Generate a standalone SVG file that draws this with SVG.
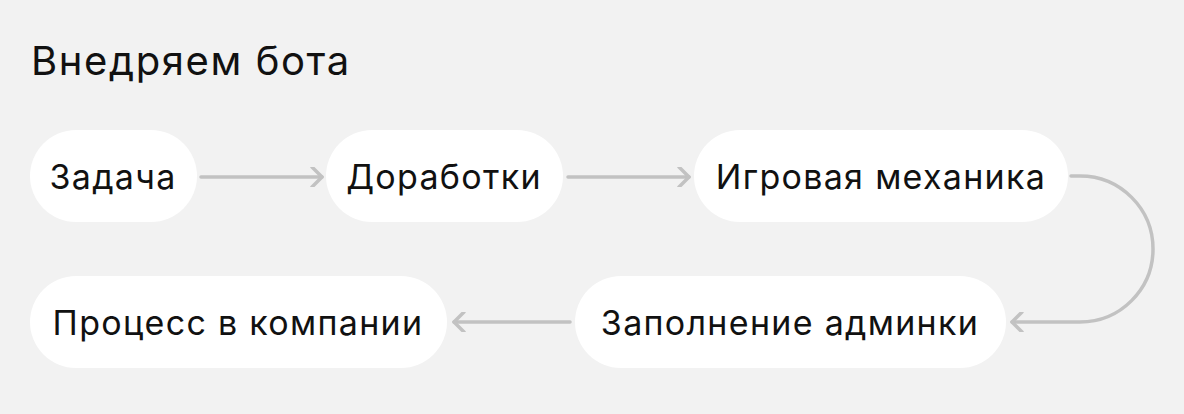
<svg xmlns="http://www.w3.org/2000/svg" width="1184" height="414" viewBox="0 0 1184 414">
<style>
text{font-family:Inter,"Noto Sans","Liberation Sans",sans-serif;fill:#111;font-size:34px;letter-spacing:1.3px}
.n{fill:#fff}
.c{fill:none;stroke:#c2c2c2;stroke-width:3.5;stroke-linecap:round;stroke-linejoin:round}
</style>
<defs>
<marker id="a" viewBox="0 0 20 20" refX="17" refY="10" markerWidth="20" markerHeight="20" markerUnits="userSpaceOnUse" orient="auto">
<path d="M7 0 L17 10 L7 20" fill="none" stroke="#c2c2c2" stroke-width="3.5" stroke-linecap="round" stroke-linejoin="round"/>
</marker>
</defs>
<rect width="1184" height="414" fill="#f2f2f2"/>
<text x="31" y="75" style="font-size:40px;letter-spacing:1.6px">Внедряем бота</text>
<g id="connectors">
<path class="c" d="M201 177 H322" marker-end="url(#a)"/>
<path class="c" d="M568 177 H689" marker-end="url(#a)"/>
<path class="c" d="M1071 176 H1080 A73 73 0 0 1 1080 322 H1012" marker-end="url(#a)"/>
<path class="c" d="M570 322 H454" marker-end="url(#a)"/>
</g>
<g id="n1"><rect class="n" x="30" y="130" width="167" height="92" rx="46"/><text x="113" y="189" text-anchor="middle">Задача</text></g>
<g id="n2"><rect class="n" x="326" y="130" width="237" height="92" rx="46"/><text x="444" y="189" text-anchor="middle">Доработки</text></g>
<g id="n3"><rect class="n" x="694" y="130" width="374" height="92" rx="46"/><text x="881" y="189" text-anchor="middle">Игровая механика</text></g>
<g id="n4"><rect class="n" x="30" y="276" width="417" height="92" rx="46"/><text x="238" y="335" text-anchor="middle">Процесс в компании</text></g>
<g id="n5"><rect class="n" x="575" y="276" width="431" height="92" rx="46"/><text x="790" y="335" text-anchor="middle">Заполнение админки</text></g>
</svg>
